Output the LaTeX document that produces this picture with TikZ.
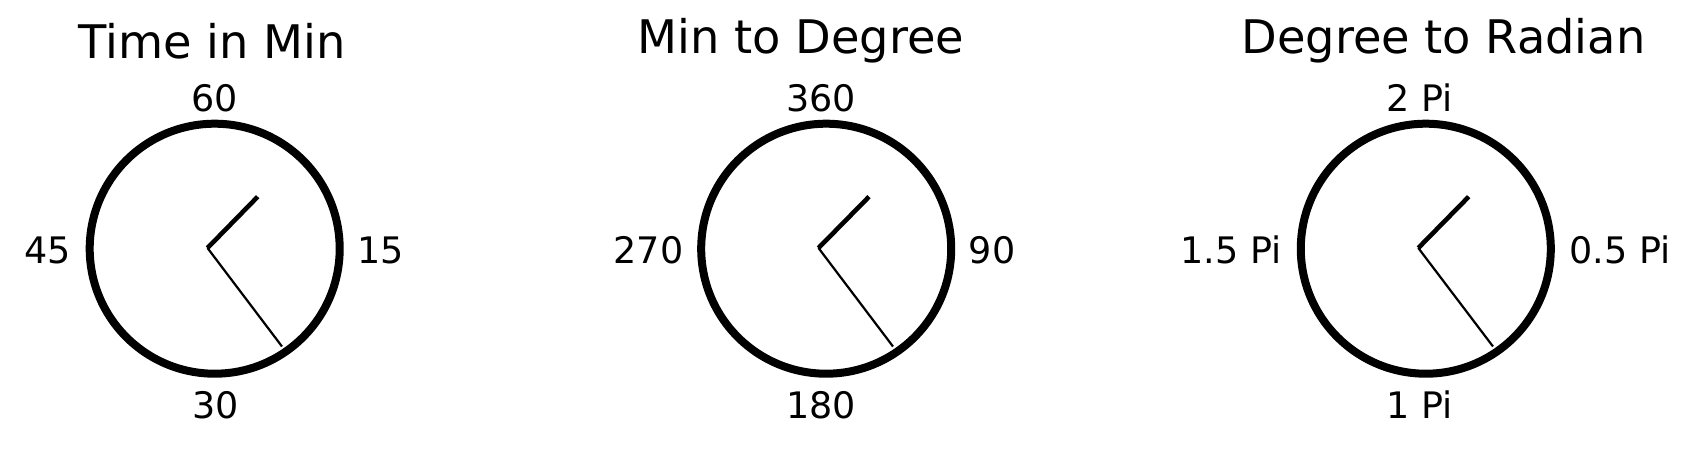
\documentclass[tikz,border=0pt]{standalone}
\usepackage{fontspec}
\setmainfont{DejaVu Sans}
\begin{document}
\begin{tikzpicture}[x=1pt,y=-1pt,
  ring/.style={line width=8pt},
  hourhand/.style={line width=4.6pt},
  minhand/.style={line width=2.2pt},
  ttl/.style={anchor=base,inner sep=0pt,font=\fontsize{46.3}{56}\selectfont},
  lbl/.style={anchor=base,inner sep=0pt,font=\fontsize{36.5}{42}\selectfont}]
\useasboundingbox (0,0) rectangle (1698,448);
% clock 1
\node[ttl] (t1) at (212,58.3) {Time in Min};
\coordinate (c1) at (214.7,248.7);
\draw[ring] (c1) circle (125);
\coordinate (o1) at (207.5,248);
\coordinate (h1) at (257.7,196.7);
\coordinate (m1) at (282,346.5);
\draw[hourhand] (o1) -- (h1);
\draw[minhand] (o1) -- (m1);
\node[lbl] (n1) at (215,111.7) {60};
\node[lbl] (e1) at (381,263) {15};
\node[lbl] (s1) at (215.5,418) {30};
\node[lbl] (w1) at (48,263) {45};
% clock 2
\node[ttl] (t2) at (801,53.3) {Min to Degree};
\coordinate (c2) at (826.2,248.7);
\draw[ring] (c2) circle (125);
\coordinate (o2) at (818.5,248);
\coordinate (h2) at (869,196.7);
\coordinate (m2) at (893,346.5);
\draw[hourhand] (o2) -- (h2);
\draw[minhand] (o2) -- (m2);
\node[lbl] (n2) at (821,111.7) {360};
\node[lbl] (e2) at (992,263) {90};
\node[lbl] (s2) at (821,418) {180};
\node[lbl] (w2) at (648.5,263) {270};
% clock 3
\node[ttl] (t3) at (1443.5,53.3) {Degree to Radian};
\coordinate (c3) at (1425.8,248.7);
\draw[ring] (c3) circle (125);
\coordinate (o3) at (1418.3,248);
\coordinate (h3) at (1468.7,196.7);
\coordinate (m3) at (1493,346.5);
\draw[hourhand] (o3) -- (h3);
\draw[minhand] (o3) -- (m3);
\node[lbl] (n3) at (1419.7,111.7) {2 Pi};
\node[lbl] (e3) at (1620,263) {0.5 Pi};
\node[lbl] (s3) at (1420,418) {1 Pi};
\node[lbl] (w3) at (1231,263) {1.5 Pi};
\end{tikzpicture}
\end{document}
